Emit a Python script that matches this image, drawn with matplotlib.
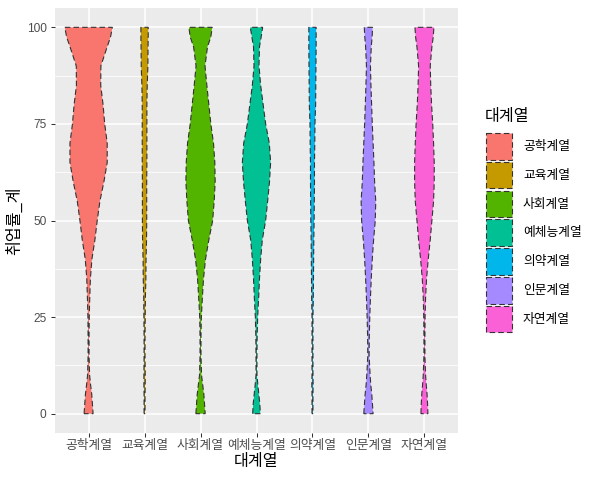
import matplotlib
matplotlib.use("Agg")
import matplotlib.pyplot as plt
from matplotlib.patches import Rectangle
import numpy as np

plt.rcParams["font.family"] = ["Liberation Sans", "Noto Sans CJK KR", "DejaVu Sans"]

categories = ["공학계열", "교육계열", "사회계열", "예체능계열", "의약계열", "인문계열", "자연계열"]
colors = ["#F8766D", "#C49A00", "#53B400", "#00C094", "#00B6EB", "#A58AFF", "#FB61D7"]

# y levels (취업률_계) at which the violin widths were read
y_levels = [0, 2.5, 5, 7.5, 10, 15, 20, 25, 30, 35, 40, 45, 50,
            55, 60, 65, 70, 75, 80, 85, 90, 95, 97.5, 100]

# relative violin widths per category
w_gong = [27, 23, 19, 12, 6, 3, 3, 4, 7, 11, 20, 38, 52,
          68, 92, 112, 112, 97, 87, 73, 74, 112, 132, 143]
w_gyo = [3, 3, 3, 4, 4, 3, 3, 4, 5, 8, 9, 12, 13,
         13, 13, 14, 14, 14, 14, 16, 20, 21, 22, 22]
w_sa = [28, 24, 20, 13, 6, 3, 3, 5, 11, 18, 30, 50, 73,
        82, 88, 86, 78, 62, 50, 38, 27, 42, 62, 70]
w_ye = [23, 20, 14, 8, 3, 3, 4, 7, 13, 18, 25, 35, 55,
        67, 78, 85, 77, 55, 40, 25, 15, 18, 28, 37]
w_ui = [3, 3, 3, 4, 3, 3, 3, 3, 5, 6, 7, 8, 10,
        11, 12, 12, 14, 15, 19, 20, 21, 22, 22, 22]
w_in = [28, 24, 20, 14, 10, 4, 5, 8, 12, 17, 23, 31, 41,
        44, 37, 33, 28, 23, 19, 15, 12, 17, 22, 25]
w_ja = [21, 19, 16, 11, 7, 3, 3, 4, 7, 13, 23, 35, 45,
        55, 59, 59, 55, 50, 43, 38, 35, 45, 53, 57]
widths = [w_gong, w_gyo, w_sa, w_ye, w_ui, w_in, w_ja]

y_ticks = [0, 25, 50, 75, 100]

fig = plt.figure(figsize=(6, 4.8), dpi=100)
ax = fig.add_axes([55 / 600, 1 - 433 / 480, 403 / 600, 425 / 480])
ax.set_facecolor("#EBEBEB")
for s in ax.spines.values():
    s.set_visible(False)

ax.set_xlim(0.4, 7.6)
ax.set_ylim(-5, 105)
for yv in [12.5, 37.5, 62.5, 87.5]:
    ax.axhline(yv, color="white", lw=0.55, zorder=0)
for yv in y_ticks:
    ax.axhline(yv, color="white", lw=1.1, zorder=0)
for i in range(len(categories)):
    ax.axvline(i + 1, color="white", lw=1.1, zorder=0)

wmax = max(max(w) for w in widths)
yv = np.array(y_levels)
for i, (w, c) in enumerate(zip(widths, colors)):
    half = np.array(w) / wmax * 0.85 / 2
    xs = np.concatenate([i + 1 - half, (i + 1 + half)[::-1]])
    ys = np.concatenate([yv, yv[::-1]])
    ax.fill(xs, ys, facecolor=c, edgecolor="#333333", lw=0.8,
            linestyle=(0, (5, 2.8)), zorder=2)

ax.set_xticks(range(1, len(categories) + 1))
ax.set_xticklabels(categories)
ax.set_yticks(y_ticks)
ax.tick_params(axis="both", color="#333333", width=0.75, length=2.9,
               labelcolor="#4D4D4D")
ax.tick_params(axis="y", pad=3.2, labelsize=8.6)
ax.tick_params(axis="x", pad=1.8, labelsize=9.2)
ax.set_xlabel("대계열", fontsize=11.6, color="black", labelpad=2)
ax.set_ylabel("취업률_계", fontsize=11.6, color="black", labelpad=3)

# legend drawn in pixel coordinates
lax = fig.add_axes([0, 0, 1, 1])
lax.set_xlim(0, 600)
lax.set_ylim(480, 0)
lax.axis("off")
lax.text(485, 117, "대계열", fontsize=11.6, va="center", ha="left")
for i, (cat, c) in enumerate(zip(categories, colors)):
    top = 133 + i * 28.8
    lax.add_patch(Rectangle((486, top), 26, 26.5, facecolor=c, edgecolor="#333333",
                            lw=0.8, linestyle=(0, (5, 2.8))))
    lax.text(523, top + 14, cat, fontsize=9.2, va="center", ha="left", color="black")

fig.savefig("out.png", dpi=100)
